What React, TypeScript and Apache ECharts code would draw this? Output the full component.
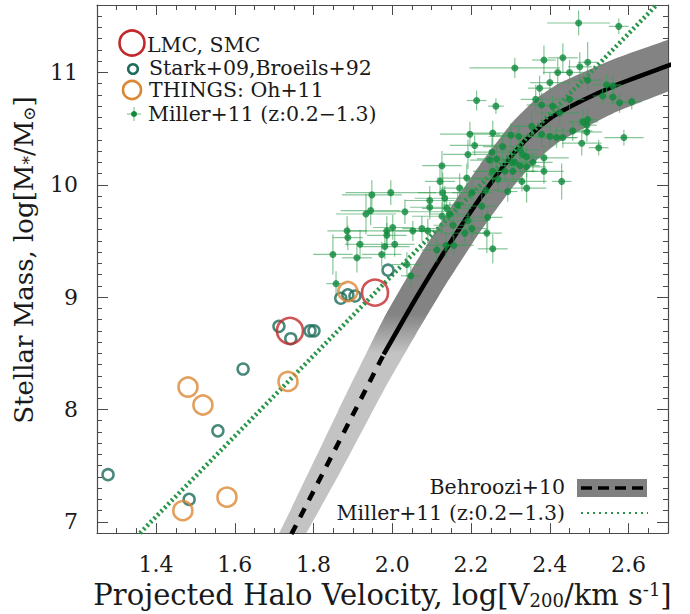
import React, { useEffect, useRef } from 'react';
import * as echarts from 'echarts';

// ---------- axis ranges & tick labels ----------
const X_MIN = 1.25;
const X_MAX = 2.7;
const Y_MIN = 6.9;
const Y_MAX = 11.6;
const xMajorTicks = [1.4, 1.6, 1.8, 2.0, 2.2, 2.4, 2.6];
const yMajorTicks = [7, 8, 9, 10, 11];

// ---------- LMC / SMC ----------
const lmcX = [1.956, 1.74];
const lmcY = [9.04, 8.7];

// ---------- Stark+09, Broeils+92 ----------
const starkX = [1.989, 1.869, 1.887, 1.905, 1.712, 1.742, 1.791, 1.801, 1.621, 1.557, 1.278, 1.484];
const starkY = [9.24, 8.99, 9.02, 9.01, 8.74, 8.63, 8.7, 8.7, 8.36, 7.81, 7.42, 7.2];

// ---------- THINGS: Oh+11 ----------
const thingsX = [1.481, 1.519, 1.735, 1.58, 1.468, 1.887];
const thingsY = [8.2, 8.04, 8.25, 7.22, 7.1, 9.05];

// ---------- Miller+11 (z:0.2-1.3) points with errors ----------
const millerX = [
  2.473, 2.575, 2.385, 2.433, 2.311, 2.42, 2.45, 2.476, 2.496, 2.4,
  2.374, 2.496, 2.544, 2.56, 2.364, 2.214, 2.263, 2.379, 2.407, 2.45,
  2.534, 2.56, 2.577, 2.608, 2.425, 2.354, 2.379, 2.4, 2.417, 2.433,
  2.458, 2.484, 2.496, 2.494, 2.494, 2.481, 2.524, 2.588, 2.197, 2.255,
  2.301, 2.321, 2.209, 2.192, 2.253, 2.28, 2.324, 2.331, 2.126, 2.247,
  2.265, 2.303, 2.311, 2.341, 2.357, 2.385, 2.121, 2.189, 2.255, 2.286,
  2.306, 2.324, 2.341, 2.385, 2.43, 1.996, 2.128, 2.171, 2.202, 2.268,
  2.293, 2.341, 2.329, 2.095, 2.133, 2.237, 2.032, 2.095, 2.126, 2.138,
  2.146, 2.166, 2.192, 2.227, 2.242, 1.986, 2.001, 2.052, 2.075, 2.09,
  1.986, 2.154, 2.184, 2.202, 2.24, 1.981, 2.006, 2.113, 2.136, 2.156,
  2.255, 1.973, 2.037, 2.047, 1.933, 1.945, 1.885, 1.887, 1.918, 1.849,
  1.91, 1.857, 1.948,
];
const millerY = [
  11.44, 11.41, 11.11, 11.13, 11.04, 11.0, 11.0, 11.05, 11.09, 10.91,
  10.86, 10.93, 10.89, 10.88, 10.76, 10.75, 10.7, 10.71, 10.7, 10.76,
  10.79, 10.78, 10.73, 10.74, 10.64, 10.52, 10.45, 10.43, 10.42, 10.42,
  10.48, 10.56, 10.58, 10.53, 10.47, 10.37, 10.33, 10.42, 10.45, 10.46,
  10.44, 10.43, 10.35, 10.27, 10.29, 10.34, 10.31, 10.27, 10.17, 10.22,
  10.23, 10.2, 10.2, 10.25, 10.2, 10.24, 10.03, 10.06, 10.12, 10.12,
  10.12, 10.17, 10.16, 10.12, 10.03, 9.93, 9.93, 9.97, 9.93, 10.05,
  9.94, 9.97, 10.03, 9.86, 9.88, 9.95, 9.76, 9.8, 9.72, 9.79,
  9.74, 9.82, 9.68, 9.81, 9.71, 9.59, 9.62, 9.59, 9.61, 9.59,
  9.55, 9.64, 9.57, 9.61, 9.57, 9.45, 9.47, 9.42, 9.46, 9.46,
  9.43, 9.38, 9.29, 9.19, 9.74, 9.77, 9.59, 9.53, 9.47, 9.38,
  9.35, 9.12, 9.91,
];
const millerXErr = [
  0.08, 0.025, 0.03, 0.038, 0.115, 0.038, 0.038, 0.03, 0.025, 0.05,
  0.03, 0.038, 0.038, 0.025, 0.038, 0.025, 0.02, 0.038, 0.038, 0.038,
  0.025, 0.02, 0.025, 0.025, 0.05, 0.05, 0.038, 0.038, 0.05, 0.038,
  0.05, 0.038, 0.025, 0.025, 0.038, 0.05, 0.025, 0.05, 0.076, 0.063,
  0.038, 0.076, 0.063, 0.063, 0.05, 0.05, 0.05, 0.038, 0.05, 0.05,
  0.05, 0.063, 0.05, 0.038, 0.05, 0.063, 0.038, 0.076, 0.05, 0.076,
  0.063, 0.05, 0.05, 0.05, 0.025, 0.115, 0.063, 0.05, 0.05, 0.063,
  0.025, 0.05, 0.063, 0.063, 0.076, 0.038, 0.1, 0.05, 0.076, 0.063,
  0.05, 0.038, 0.05, 0.038, 0.038, 0.1, 0.05, 0.076, 0.05, 0.038,
  0.05, 0.05, 0.063, 0.038, 0.038, 0.063, 0.05, 0.038, 0.05, 0.05,
  0.038, 0.05, 0.038, 0.025, 0.076, 0.076, 0.05, 0.038, 0.038, 0.05,
  0.038, 0.025, 0.076,
];
const millerYErr = [
  0.11, 0.07, 0.13, 0.13, 0.09, 0.13, 0.11, 0.13, 0.18, 0.09,
  0.11, 0.09, 0.09, 0.09, 0.13, 0.09, 0.07, 0.11, 0.09, 0.09,
  0.07, 0.07, 0.09, 0.07, 0.11, 0.13, 0.11, 0.09, 0.09, 0.09,
  0.09, 0.11, 0.09, 0.09, 0.09, 0.11, 0.07, 0.07, 0.11, 0.11,
  0.11, 0.11, 0.09, 0.13, 0.13, 0.11, 0.09, 0.09, 0.13, 0.09,
  0.11, 0.11, 0.09, 0.09, 0.09, 0.11, 0.13, 0.13, 0.11, 0.09,
  0.09, 0.09, 0.09, 0.11, 0.16, 0.11, 0.18, 0.13, 0.11, 0.11,
  0.09, 0.13, 0.09, 0.13, 0.11, 0.11, 0.11, 0.11, 0.13, 0.11,
  0.11, 0.11, 0.11, 0.11, 0.11, 0.13, 0.11, 0.09, 0.11, 0.11,
  0.11, 0.11, 0.09, 0.11, 0.18, 0.11, 0.11, 0.11, 0.11, 0.09,
  0.13, 0.11, 0.11, 0.09, 0.18, 0.13, 0.13, 0.11, 0.13, 0.18,
  0.13, 0.11, 0.13,
];

// ---------- Behroozi+10 relation with band ----------
const behrooziX = [1.65, 1.7, 1.745, 1.862, 1.978, 2.06, 2.138, 2.222, 2.306, 2.367, 2.425, 2.56, 2.7, 2.76];
const behrooziY = [6.25, 6.59, 6.9, 7.695, 8.49, 8.99, 9.435, 9.877, 10.27, 10.495, 10.645, 10.875, 11.06, 11.14];
const behrooziHalf = [0.22, 0.22, 0.23, 0.29, 0.32, 0.32, 0.31, 0.3, 0.29, 0.275, 0.26, 0.24, 0.23, 0.23];
const behrooziSplit = 4; // dashed up to this index, solid after
const bandLightY = 8.5; // band light below this stellar mass
const bandDarkY = 8.85; // band dark above this stellar mass

// ---------- Miller+11 fit line ----------
const millerLineX = [1.359, 2.671];
const millerLineY = [6.9, 11.6];

// ---------- styling ----------
const FONT = 'DejaVu Serif';
const FRAME = '#4a4a4a';
const RED = '#c3292b';
const TEAL = '#1c6b5b';
const ORANGE = '#dc8733';
const GREEN = '#0f8a3c';
const GREEN_ERR = 'rgba(55,160,85,0.6)';
const GREEN_LINE = '#2a9548';

const xMinorTicks: number[] = [];
for (let i = 25; i <= 54; i++) {
  if (i % 4 !== 0) xMinorTicks.push(Math.round(i * 5) / 100);
}
const yMinorTicks: number[] = [];
for (let i = 69; i <= 116; i++) {
  if (i % 10 !== 0) yMinorTicks.push(i / 10);
}

const zip = (a: number[], b: number[]) => a.map((v, i) => [v, b[i]]);

const bandSeries = {
  type: 'custom',
  xAxisIndex: 0,
  yAxisIndex: 0,
  z: 1,
  silent: true,
  data: [[behrooziX[2], behrooziY[2]]],
  renderItem: (params: any, api: any) => {
    const upper = behrooziX.map((x, i) => api.coord([x, behrooziY[i] + behrooziHalf[i]]));
    const lower = behrooziX.map((x, i) => api.coord([x, behrooziY[i] - behrooziHalf[i]])).reverse();
    const cs = params.coordSys;
    const yDark = api.coord([2, bandDarkY])[1];
    const yLight = api.coord([2, bandLightY])[1];
    return {
      type: 'polygon',
      shape: { points: upper.concat(lower), smooth: 0.15 },
      clipPath: { type: 'rect', shape: { x: cs.x, y: cs.y, width: cs.width, height: cs.height } },
      style: {
        fill: {
          type: 'linear',
          x: 0,
          y: yDark,
          x2: 0,
          y2: yLight,
          global: true,
          colorStops: [
            { offset: 0, color: '#838383' },
            { offset: 1, color: '#c3c3c3' },
          ],
        },
      },
    };
  },
};

function makeX(position: string, ticks: number[], len: number, withLine: boolean, withLabel: boolean): any {
  return {
    type: 'value',
    position,
    min: X_MIN,
    max: X_MAX,
    axisLine: { show: withLine, onZero: false, lineStyle: { color: FRAME, width: 1.2 } },
    axisTick: { show: true, inside: true, length: len, customValues: ticks, lineStyle: { color: FRAME, width: 1 } },
    axisLabel: withLabel
      ? { show: true, customValues: ticks, formatter: (v: number) => v.toFixed(1), fontFamily: FONT, fontSize: 22, color: '#1a1a1a', margin: 20 }
      : { show: false },
    splitLine: { show: false },
  };
}
function makeY(position: string, ticks: number[], len: number, withLine: boolean, withLabel: boolean): any {
  return {
    type: 'value',
    position,
    min: Y_MIN,
    max: Y_MAX,
    axisLine: { show: withLine, onZero: false, lineStyle: { color: FRAME, width: 1.2 } },
    axisTick: { show: true, inside: true, length: len, customValues: ticks, lineStyle: { color: FRAME, width: 1 } },
    axisLabel: withLabel
      ? { show: true, customValues: ticks, formatter: (v: number) => String(v), fontFamily: FONT, fontSize: 22, color: '#1a1a1a', margin: 19 }
      : { show: false },
    splitLine: { show: false },
  };
}

const xMain = makeX('bottom', xMajorTicks, 10, true, true);
xMain.name = '{t|Projected Halo Velocity, log[V}{s|200}{t|/km s}{p|-1}{t|]}';
xMain.nameLocation = 'middle';
xMain.nameGap = 44;
xMain.nameTextStyle = {
  fontFamily: FONT,
  fontSize: 29,
  color: '#1a1a1a',
  rich: {
    t: { fontFamily: FONT, fontSize: 29, color: '#1a1a1a' },
    s: { fontFamily: FONT, fontSize: 18, color: '#1a1a1a', verticalAlign: 'bottom' },
    p: { fontFamily: FONT, fontSize: 18, color: '#1a1a1a', verticalAlign: 'top' },
  },
};

const yMain = makeY('left', yMajorTicks, 11, true, true);
yMain.name = '{t|Stellar Mass, log[M}{s|*}{t|/M}{s|⊙}{t|]}';
yMain.nameLocation = 'middle';
yMain.nameRotate = 90;
yMain.nameGap = 60;
yMain.nameTextStyle = {
  fontFamily: FONT,
  fontSize: 26,
  color: '#1a1a1a',
  padding: [0, 0, 0, 18],
  rich: {
    t: { fontFamily: FONT, fontSize: 26, color: '#1a1a1a' },
    s: { fontFamily: FONT, fontSize: 17, color: '#1a1a1a', verticalAlign: 'bottom' },
  },
};

const legendText = (x: number, y: number, text: string, align = 'left') => ({
  type: 'text',
  x,
  y,
  z: 100,
  style: {
    text,
    fontFamily: FONT,
    fontSize: 20.5,
    fill: '#1a1a1a',
    textAlign: align,
    align,
    textVerticalAlign: 'middle',
    verticalAlign: 'middle',
  },
});

const option: any = {
  animation: false,
  backgroundColor: '#ffffff',
  grid: { left: 97, top: 5, right: 22, bottom: 77, containLabel: false },
  xAxis: [
    xMain,
    makeX('bottom', xMinorTicks, 5, false, false),
    makeX('top', xMajorTicks, 10, true, false),
    makeX('top', xMinorTicks, 5, false, false),
  ],
  yAxis: [
    yMain,
    makeY('left', yMinorTicks, 5, false, false),
    makeY('right', yMajorTicks, 11, true, false),
    makeY('right', yMinorTicks, 5, false, false),
  ],
  series: [
    bandSeries,
    {
      type: 'line',
      xAxisIndex: 0,
      yAxisIndex: 0,
      z: 3,
      showSymbol: false,
      silent: true,
      data: zip(behrooziX.slice(1, behrooziSplit + 1), behrooziY.slice(1, behrooziSplit + 1)),
      lineStyle: { color: '#000', width: 4.5, type: [10, 9], cap: 'butt' },
    },
    {
      type: 'line',
      xAxisIndex: 0,
      yAxisIndex: 0,
      z: 3,
      showSymbol: false,
      silent: true,
      smooth: 0.25,
      data: zip(behrooziX.slice(behrooziSplit), behrooziY.slice(behrooziSplit)),
      lineStyle: { color: '#000', width: 4.5 },
    },
    {
      type: 'line',
      xAxisIndex: 0,
      yAxisIndex: 0,
      z: 4,
      showSymbol: false,
      silent: true,
      data: zip(millerLineX, millerLineY),
      lineStyle: { color: GREEN_LINE, width: 4.5, type: [2.2, 2.8], cap: 'butt' },
    },
    {
      type: 'custom',
      xAxisIndex: 0,
      yAxisIndex: 0,
      z: 5,
      silent: true,
      encode: { x: 0, y: 1 },
      data: millerX.map((x, i) => [x, millerY[i], millerXErr[i], millerYErr[i]]),
      renderItem: (params: any, api: any) => {
        const x = api.value(0);
        const y = api.value(1);
        const xe = api.value(2);
        const ye = api.value(3);
        const a = api.coord([x - xe, y]);
        const b = api.coord([x + xe, y]);
        const c = api.coord([x, y - ye]);
        const d = api.coord([x, y + ye]);
        const st = { stroke: GREEN_ERR, lineWidth: 1.2 };
        return {
          type: 'group',
          children: [
            { type: 'line', shape: { x1: a[0], y1: a[1], x2: b[0], y2: b[1] }, style: st },
            { type: 'line', shape: { x1: c[0], y1: c[1], x2: d[0], y2: d[1] }, style: st },
          ],
        };
      },
    },
    {
      type: 'scatter',
      xAxisIndex: 0,
      yAxisIndex: 0,
      z: 6,
      symbol: 'circle',
      symbolSize: 7,
      data: zip(millerX, millerY),
      itemStyle: { color: GREEN },
    },
    {
      type: 'scatter',
      xAxisIndex: 0,
      yAxisIndex: 0,
      z: 7,
      symbol: 'circle',
      symbolSize: 11,
      data: zip(starkX, starkY),
      itemStyle: { color: 'transparent', borderColor: TEAL, borderWidth: 2.5 },
    },
    {
      type: 'scatter',
      xAxisIndex: 0,
      yAxisIndex: 0,
      z: 8,
      symbol: 'circle',
      symbolSize: 19,
      data: zip(thingsX, thingsY),
      itemStyle: { color: 'transparent', borderColor: ORANGE, borderWidth: 2.6 },
    },
    {
      type: 'scatter',
      xAxisIndex: 0,
      yAxisIndex: 0,
      z: 9,
      symbol: 'circle',
      symbolSize: 26,
      data: zip(lmcX, lmcY),
      itemStyle: { color: 'transparent', borderColor: RED, borderWidth: 2.6 },
    },
  ],
  graphic: [
    { type: 'circle', z: 100, shape: { cx: 132, cy: 43, r: 12.5 }, style: { fill: 'none', stroke: RED, lineWidth: 2.6 } },
    legendText(147, 45, 'LMC, SMC'),
    { type: 'circle', z: 100, shape: { cx: 133, cy: 69, r: 4.8 }, style: { fill: 'none', stroke: TEAL, lineWidth: 2.5 } },
    legendText(149, 68, 'Stark+09,Broeils+92'),
    { type: 'circle', z: 100, shape: { cx: 132, cy: 90, r: 9 }, style: { fill: 'none', stroke: ORANGE, lineWidth: 2.6 } },
    legendText(149, 90, 'THINGS: Oh+11'),
    { type: 'line', z: 100, shape: { x1: 127, y1: 114, x2: 141, y2: 114 }, style: { stroke: GREEN_ERR, lineWidth: 1.2 } },
    { type: 'line', z: 100, shape: { x1: 134, y1: 107, x2: 134, y2: 121 }, style: { stroke: GREEN_ERR, lineWidth: 1.2 } },
    { type: 'circle', z: 101, shape: { cx: 134, cy: 114, r: 3 }, style: { fill: GREEN } },
    legendText(148, 114, 'Miller+11 (z:0.2−1.3)'),
    legendText(565, 487, 'Behroozi+10', 'right'),
    { type: 'rect', z: 100, shape: { x: 577, y: 479, width: 70, height: 18 }, style: { fill: '#808080' } },
    { type: 'line', z: 101, shape: { x1: 581, y1: 488, x2: 645, y2: 488 }, style: { stroke: '#000', lineWidth: 3.5, lineDash: [11, 6] } },
    legendText(565, 513, 'Miller+11 (z:0.2−1.3)', 'right'),
    { type: 'line', z: 100, shape: { x1: 581, y1: 513, x2: 648, y2: 513 }, style: { stroke: GREEN_LINE, lineWidth: 2.2, lineDash: [2, 4] } },
  ],
};

export default function App() {
  const ref = useRef<HTMLDivElement>(null);
  useEffect(() => {
    if (!ref.current) return;
    const chart = echarts.init(ref.current, null, { renderer: 'svg' });
    chart.setOption(option);
    return () => {
      chart.dispose();
    };
  }, []);
  return (
    <div
      ref={ref}
      style={{ position: 'fixed', left: 0, top: 0, width: 690, height: 614, background: '#fff' }}
    />
  );
}
